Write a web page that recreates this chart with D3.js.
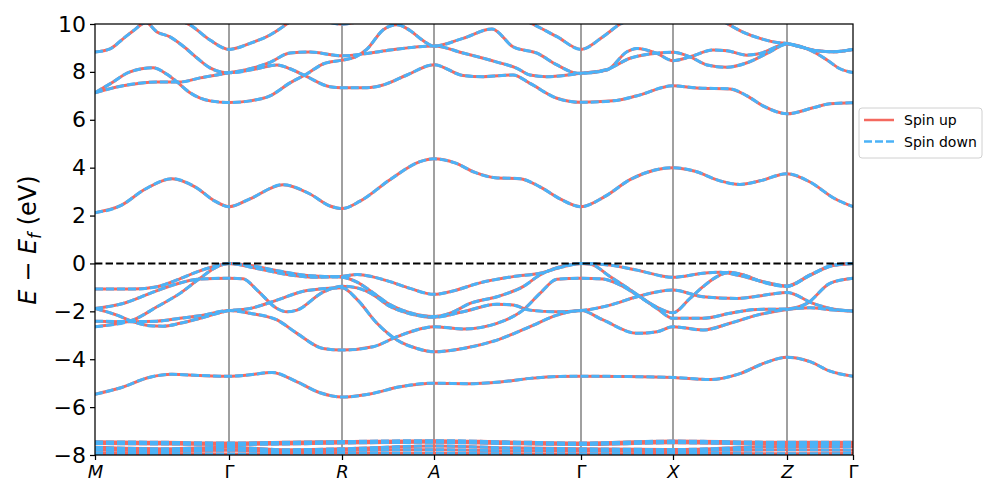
<!DOCTYPE html>
<html><head><meta charset="utf-8">
<script src="https://cdn.jsdelivr.net/npm/d3@7"></script>
<style>body{margin:0;background:#fff}svg{display:block;font-family:"DejaVu Sans",sans-serif}</style>
</head><body><svg id="c" width="997" height="498"></svg>
<script>
// ---- data ----
const kTicks = [0, 1.34, 2.47, 3.39, 4.86, 5.78, 6.92, 7.58];
const kLabels = ["M", "Γ", "R", "A", "Γ", "X", "Z", "Γ"];
const yTicks = [10, 8, 6, 4, 2, 0, -2, -4, -6, -8];
const seriesNames = ["Spin up", "Spin down"];

const bandU1 = [[0,8.83],[0.15,8.96],[0.28,9.38],[0.38,9.71],[0.51,10.05],[0.62,9.67],[0.75,9.46],[0.88,9.08],[1.02,8.58],[1.15,8.17],[1.34,7.96],[1.62,8.13],[1.82,8.29],[1.95,8.13],[2.12,7.8],[2.35,7.38],[2.47,7.34],[2.72,7.34],[2.88,7.45],[3.12,7.87],[3.39,8.3],[3.68,7.85],[3.88,7.8],[4.18,7.87],[4.35,7.52],[4.62,6.9],[4.86,6.73],[5.18,6.79],[5.42,7.0],[5.78,7.42],[6.02,7.33],[6.35,7.29],[6.52,7.0],[6.68,6.58],[6.92,6.25],[7.18,6.5],[7.35,6.67],[7.58,6.71]];
const bandU2 = [[0,7.13],[0.28,7.42],[0.62,7.58],[0.85,7.58],[1.05,7.75],[1.34,7.96],[1.55,8.13],[1.75,8.4],[1.95,8.79],[2.15,8.83],[2.47,8.67],[2.72,8.77],[2.95,8.91],[3.39,9.08],[3.68,8.79],[4.02,8.41],[4.22,8.15],[4.35,7.87],[4.52,7.8],[4.86,7.94],[5.12,8.1],[5.35,8.57],[5.55,8.75],[5.78,8.82],[5.95,8.63],[6.12,8.29],[6.32,8.19],[6.52,8.38],[6.75,8.84],[6.92,9.16],[7.15,8.91],[7.32,8.5],[7.45,8.13],[7.58,7.97]];
const bandU3 = [[0,7.13],[0.15,7.5],[0.35,8.0],[0.58,8.17],[0.72,7.9],[0.82,7.58],[0.95,7.13],[1.15,6.79],[1.34,6.72],[1.55,6.79],[1.75,7.0],[1.95,7.54],[2.12,7.92],[2.28,8.33],[2.47,8.49],[2.6,8.62],[2.72,8.95],[2.88,9.75],[3.02,9.97],[3.15,9.73],[3.28,9.31],[3.39,9.08],[3.68,9.4],[3.97,9.79],[4.18,9.05],[4.42,8.78],[4.62,8.29],[4.78,7.98],[4.86,7.94],[5.12,8.08],[5.32,8.84],[5.42,8.98],[5.62,8.77],[5.78,8.47],[5.95,8.63],[6.18,8.91],[6.32,8.88],[6.52,8.7],[6.65,8.77],[6.92,9.16],[7.05,9.05],[7.22,8.88],[7.38,8.84],[7.58,8.94]];
const bandU4 = [[0.85,10.15],[0.95,9.96],[1.15,9.33],[1.34,8.94],[1.55,9.19],[1.75,9.54],[1.95,10.1]];
const bandU5 = [[4.3,10.15],[4.38,9.99],[4.62,9.47],[4.86,8.94],[5.08,9.47],[5.25,9.99],[5.33,10.15]];
const bandU6 = [[6.27,10.15],[6.35,9.95],[6.48,9.66],[6.65,9.4],[6.82,9.23],[6.92,9.19],[7.05,9.05],[7.22,8.88],[7.38,8.84],[7.58,8.94]];
const bandU7 = [[2.25,10.2],[2.47,9.99],[2.7,10.2]];
const bandC1 = [[0,2.12],[0.25,2.4],[0.5,3.1],[0.77,3.54],[1.0,3.2],[1.2,2.6],[1.34,2.37],[1.55,2.7],[1.88,3.29],[2.15,2.9],[2.35,2.4],[2.47,2.29],[2.65,2.6],[2.95,3.5],[3.25,4.25],[3.39,4.37],[3.6,4.2],[3.8,3.8],[4.0,3.58],[4.25,3.54],[4.45,3.2],[4.65,2.7],[4.86,2.37],[5.1,2.8],[5.35,3.5],[5.6,3.9],[5.78,4.0],[6.0,3.85],[6.25,3.45],[6.45,3.3],[6.65,3.45],[6.92,3.75],[7.15,3.4],[7.4,2.7],[7.58,2.37]];
const bandV1 = [[0,-1.07],[0.38,-1.07],[0.62,-0.97],[0.82,-0.69],[1.02,-0.35],[1.18,-0.14],[1.34,0],[1.62,-0.21],[1.95,-0.48],[2.22,-0.58],[2.47,-0.54],[2.62,-0.46],[2.78,-0.56],[2.95,-0.76],[3.15,-1.04],[3.39,-1.29],[3.55,-1.18],[3.85,-0.81],[4.18,-0.55],[4.45,-0.41],[4.68,-0.14],[4.86,0],[5.15,-0.07],[5.42,-0.28],[5.78,-0.58],[6.08,-0.41],[6.25,-0.37],[6.42,-0.48],[6.68,-0.76],[6.92,-0.94],[7.15,-0.48],[7.38,-0.07],[7.58,0]];
const bandV2 = [[0,-2.64],[0.38,-2.36],[0.62,-1.81],[0.85,-1.25],[1.05,-0.62],[1.22,-0.14],[1.34,0],[1.55,-0.08],[1.82,-0.3],[2.12,-0.5],[2.47,-0.58],[2.62,-0.78],[2.78,-1.22],[2.95,-1.72],[3.15,-2.06],[3.39,-2.22],[3.55,-2.08],[3.75,-1.67],[4.02,-1.39],[4.28,-0.97],[4.45,-0.48],[4.68,-0.11],[4.86,0],[4.95,-0.02],[5.15,-0.55],[5.38,-1.18],[5.58,-1.74],[5.78,-2.06],[5.95,-1.46],[6.08,-0.97],[6.22,-0.55],[6.35,-0.37],[6.5,-0.5],[6.68,-0.78],[6.92,-0.96],[7.15,-0.5],[7.38,-0.09],[7.58,0]];
const bandV3 = [[0,-1.88],[0.28,-1.67],[0.55,-1.25],[0.78,-0.9],[1.05,-0.65],[1.34,-0.62],[1.48,-0.64],[1.62,-1.11],[1.82,-1.88],[1.92,-2.02],[2.02,-1.95],[2.28,-1.2],[2.47,-0.95],[2.62,-1.02],[2.78,-1.3],[2.95,-1.8],[3.15,-2.1],[3.39,-2.25],[3.68,-2.02],[4.02,-1.7],[4.18,-1.74],[4.35,-1.95],[4.62,-2.02],[4.86,-1.97],[5.15,-1.74],[5.42,-1.39],[5.78,-1.11],[6.08,-1.39],[6.42,-1.46],[6.75,-1.29],[6.92,-1.21],[7.18,-1.67],[7.35,-1.88],[7.58,-1.99]];
const bandV4 = [[0,-1.88],[0.22,-2.16],[0.38,-2.43],[0.55,-2.6],[0.68,-2.62],[0.85,-2.5],[1.05,-2.29],[1.34,-1.97],[1.55,-1.88],[1.82,-1.53],[2.12,-1.13],[2.47,-1.02],[2.62,-1.5],[2.82,-2.5],[3.02,-3.2],[3.22,-3.55],[3.39,-3.69],[3.68,-3.55],[4.02,-3.2],[4.35,-2.64],[4.62,-2.16],[4.86,-1.97],[5.08,-2.36],[5.42,-2.92],[5.62,-2.85],[5.78,-2.64],[6.08,-2.78],[6.35,-2.5],[6.62,-2.16],[6.92,-1.92],[7.15,-1.85],[7.35,-1.93],[7.58,-1.99]];
const bandV5 = [[0,-2.41],[0.38,-2.43],[0.62,-2.41],[0.85,-2.29],[1.08,-2.16],[1.34,-1.97],[1.55,-2.08],[1.82,-2.36],[2.02,-2.92],[2.28,-3.55],[2.47,-3.62],[2.78,-3.48],[3.02,-3.06],[3.28,-2.71],[3.39,-2.64],[3.68,-2.74],[4.02,-2.5],[4.28,-1.95],[4.45,-1.25],[4.62,-0.66],[4.86,-0.62],[5.08,-0.65],[5.25,-0.9],[5.42,-1.32],[5.62,-1.88],[5.78,-2.29],[6.08,-2.29],[6.35,-2.08],[6.62,-1.92],[6.92,-1.9],[7.12,-1.67],[7.35,-0.83],[7.58,-0.62]];
const bandD1 = [[0,-5.46],[0.25,-5.2],[0.55,-4.75],[0.77,-4.63],[1.05,-4.68],[1.34,-4.71],[1.55,-4.65],[1.77,-4.55],[2.0,-4.9],[2.25,-5.4],[2.47,-5.58],[2.75,-5.45],[3.05,-5.15],[3.39,-5.0],[3.75,-5.02],[4.05,-4.95],[4.35,-4.8],[4.65,-4.72],[4.86,-4.71],[5.25,-4.72],[5.78,-4.76],[6.15,-4.85],[6.45,-4.6],[6.7,-4.15],[6.92,-3.92],[7.15,-4.1],[7.35,-4.5],[7.58,-4.71]];
const bandB1 = [[0,-7.45],[0.7,-7.47],[1.34,-7.5],[1.9,-7.47],[2.47,-7.44],[3.39,-7.4],[4.1,-7.45],[4.86,-7.5],[5.78,-7.42],[6.92,-7.47],[7.58,-7.47]];
const bandB2 = [[0,-7.52],[0.7,-7.54],[1.34,-7.56],[1.9,-7.54],[2.47,-7.5],[3.39,-7.47],[4.1,-7.52],[4.86,-7.56],[5.78,-7.49],[6.92,-7.55],[7.58,-7.55]];
const bandB3 = [[0,-7.68],[0.7,-7.74],[1.34,-7.68],[1.9,-7.78],[2.47,-7.74],[3.39,-7.62],[4.1,-7.7],[4.86,-7.74],[5.78,-7.77],[6.92,-7.64],[7.58,-7.66]];
const bandB4 = [[0,-7.8],[0.7,-7.82],[1.34,-7.8],[1.9,-7.84],[2.47,-7.8],[3.39,-7.78],[4.1,-7.82],[4.86,-7.83],[5.78,-7.82],[6.92,-7.78],[7.58,-7.8]];
const bandB5 = [[0,-7.94],[0.7,-7.94],[1.34,-7.96],[1.9,-7.93],[2.47,-7.92],[3.39,-7.93],[4.1,-7.95],[4.86,-7.96],[5.78,-7.93],[6.92,-7.95],[7.58,-7.94]];

const bands = [bandB1,bandB2,bandB3,bandB4,bandB5,bandD1,bandV5,bandV4,bandV3,bandV2,bandV1,bandC1,bandU1,bandU2,bandU3,bandU4,bandU5,bandU6,bandU7];

// ---- drawing ----
const m = {left: 95, right: 853, top: 24, bottom: 455};
const RED = "#f4695f", BLUE = "#4bb2f7";
const svg = d3.select("#c");
const x = d3.scaleLinear().domain([kTicks[0], kTicks[kTicks.length-1]]).range([m.left, m.right]);
const y = d3.scaleLinear().domain([-8, 10]).range([m.bottom, m.top]);

svg.append("defs").append("clipPath").attr("id","clip")
  .append("rect").attr("x", m.left).attr("y", m.top).attr("width", m.right-m.left).attr("height", m.bottom-m.top);

// high-symmetry vertical lines
svg.append("g").selectAll("line").data(kTicks.slice(1,-1)).join("line")
  .attr("x1", d=>x(d)).attr("x2", d=>x(d)).attr("y1", m.top).attr("y2", m.bottom)
  .attr("stroke", "#808080").attr("stroke-width", 1.5);

const line = d3.line().x(d=>x(d[0])).y(d=>y(d[1])).curve(d3.curveMonotoneX);
const g = svg.append("g").attr("clip-path","url(#clip)");
g.selectAll("path.up").data(bands).join("path").attr("class","up")
  .attr("d", line).attr("fill","none").attr("stroke", RED).attr("stroke-width", 3);
g.selectAll("path.dn").data(bands).join("path").attr("class","dn")
  .attr("d", line).attr("fill","none").attr("stroke", BLUE).attr("stroke-width", 3)
  .attr("stroke-dasharray", "8,3");

// Fermi level
g.append("line").attr("x1", m.left).attr("x2", m.right).attr("y1", y(0)).attr("y2", y(0))
  .attr("stroke","#000").attr("stroke-width",2).attr("stroke-dasharray","7.4,3.2");

// frame
svg.append("rect").attr("x", m.left).attr("y", m.top).attr("width", m.right-m.left).attr("height", m.bottom-m.top)
  .attr("fill","none").attr("stroke","#000").attr("stroke-width",1.25);

// y axis
const yAxis = d3.axisLeft(y).tickValues(yTicks).tickSize(5).tickPadding(4)
  .tickFormat(d => d < 0 ? "\u2212" + Math.abs(d) : String(d));
const ya = svg.append("g").attr("transform", `translate(${m.left},0)`).call(yAxis);
ya.select(".domain").remove();
ya.selectAll("line").attr("stroke","#000").attr("stroke-width",1.25);
ya.selectAll("text").attr("font-size", 22).attr("fill","#000").attr("font-family","DejaVu Sans");

// x axis
const xAxis = d3.axisBottom(x).tickValues(kTicks).tickSize(5).tickPadding(5).tickFormat((d,i)=>kLabels[i]);
const xa = svg.append("g").attr("transform", `translate(0,${m.bottom})`).call(xAxis);
xa.select(".domain").remove();
xa.selectAll("line").attr("stroke","#000").attr("stroke-width",1.25);
xa.selectAll("text").attr("font-size", 18).attr("fill","#000").attr("font-family","DejaVu Sans")
  .attr("font-style", (d,i)=> kLabels[i]==="Γ" ? "normal" : "italic");

// y label
const yl = svg.append("text").attr("transform","translate(36,240) rotate(-90)")
  .attr("text-anchor","middle").attr("font-size",24).attr("fill","#000");
yl.append("tspan").attr("font-style","italic").text("E");
yl.append("tspan").text(" \u2212 ");
yl.append("tspan").attr("font-style","italic").text("E");
yl.append("tspan").attr("font-style","italic").attr("font-size",17).attr("dy",5).text("f");
yl.append("tspan").attr("dy",-5).text(" (eV)");

// legend
const lg = svg.append("g");
lg.append("rect").attr("x",859).attr("y",108).attr("width",123).attr("height",50).attr("rx",3)
  .attr("fill","#fff").attr("stroke","#d0d0d0").attr("stroke-width",1);
const legendStyle = [{c:RED, dash:null},{c:BLUE, dash:"8,3"}];
seriesNames.forEach((n,i)=>{
  const yy = 120 + i*21.5;
  lg.append("line").attr("x1",864).attr("x2",894).attr("y1",yy).attr("y2",yy)
    .attr("stroke",legendStyle[i].c).attr("stroke-width",2.5).attr("stroke-dasharray",legendStyle[i].dash);
  lg.append("text").attr("x",904).attr("y",yy+5).attr("font-size",14).attr("fill","#000").text(n);
});
</script></body></html>
